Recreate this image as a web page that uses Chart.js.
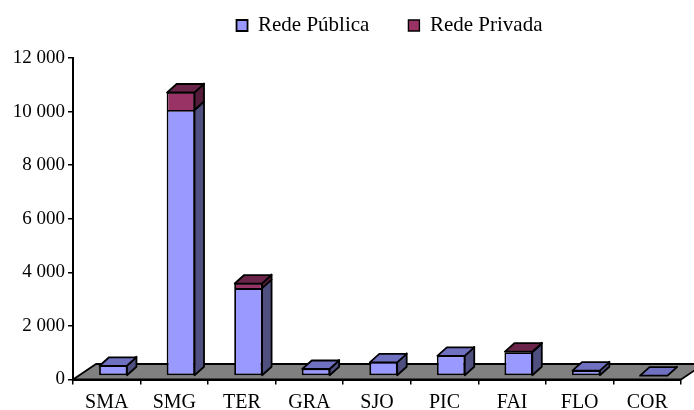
<!DOCTYPE html>
<html>
<head>
<meta charset="utf-8">
<style>html,body{margin:0;padding:0;background:#fff}canvas{display:block}</style>
<script src="https://cdn.jsdelivr.net/npm/chart.js@4"></script>
</head>
<body>
<canvas id="c" width="694" height="410"></canvas>
<script>
const categories = ['SMA','SMG','TER','GRA','SJO','PIC','FAI','FLO','COR'];
const redePublica = [400,9930,3280,280,530,770,890,220,30];
const redePrivada = [0,670,190,0,0,0,40,0,0];
const yTickLabels = ['0','2 000','4 000','6 000','8 000','10 000','12 000'];

const FRONT_SHIFT_X = 6.5, FRONT_SHIFT_Y = -3.5, DEPTH_X = 9.5, DEPTH_Y = 8.5;
const FLOOR_DX = 23, FLOOR_DY = 15.5;
const LINE = 1.8;
const shades = [
  {side:'#4f4f80', top:'#7070c0'},
  {side:'#551c39', top:'#6b2449'}
];

function poly(ctx, pts, fill) {
  ctx.beginPath();
  pts.forEach((p,i)=> i ? ctx.lineTo(p[0],p[1]) : ctx.moveTo(p[0],p[1]));
  ctx.closePath();
  ctx.fillStyle = fill;
  ctx.fill();
  ctx.lineWidth = LINE;
  ctx.lineJoin = 'round';
  ctx.strokeStyle = '#000';
  ctx.stroke();
}

const threeD = {
  id:'threeD',
  beforeDraw(chart){
    const {ctx, scales:{x,y}} = chart;
    const base = y.getPixelForValue(0), l = x.left, r = x.right;
    poly(ctx, [[l,base],[l+FLOOR_DX,base-FLOOR_DY],[r+FLOOR_DX,base-FLOOR_DY],[r,base]], '#808080');
  },
  beforeDatasetsDraw(chart){
    chart.ctx.save();
    chart.ctx.translate(FRONT_SHIFT_X, FRONT_SHIFT_Y);
  },
  afterDatasetsDraw(chart){
    const ctx = chart.ctx;
    categories.forEach((_,i)=>{
      let topIdx = -1, topEl = null;
      chart.data.datasets.forEach((ds,d)=>{
        const el = chart.getDatasetMeta(d).data[i];
        if(!ds.data[i]) return;
        const {x,y,base,width} = el.getProps(['x','y','base','width'], true);
        const R = x + width/2 - 0.5;
        poly(ctx, [[R,y],[R+DEPTH_X,y-DEPTH_Y],[R+DEPTH_X,base-DEPTH_Y],[R,base]], shades[d].side);
        topIdx = d; topEl = {x,y,width};
      });
      if(topEl){
        const L = topEl.x-topEl.width/2+0.5, R = topEl.x+topEl.width/2-0.5, Y = topEl.y+0.5;
        poly(ctx, [[L,Y],[L+DEPTH_X,Y-DEPTH_Y],[R+DEPTH_X,Y-DEPTH_Y],[R,Y]], shades[topIdx].top);
      }
    });
    ctx.restore();
  },
  afterLayout(chart){
    const lg = chart.legend;
    lg.left += 49; lg.right += 49;
    lg.top = -24;
  }
};

const axisFont = {family:'"Liberation Serif"', size:20};
const yFont = {family:'"Liberation Serif"', size:19};
const legendFont = {family:'"Liberation Serif"', size:21};

new Chart(document.getElementById('c'), {
  type:'bar',
  plugins:[threeD],
  data:{
    labels:categories,
    datasets:[
      {label:'Rede Pública', data:redePublica, backgroundColor:'#9999ff', borderColor:'#000', borderWidth:LINE, borderSkipped:false},
      {label:'Rede Privada', data:redePrivada, backgroundColor:'#993366', borderColor:'#000',
       borderWidth:{top:LINE,left:LINE,right:LINE,bottom:0}, borderSkipped:false}
    ]
  },
  options:{
    responsive:false,
    animation:false,
    layout:{padding:{top:-12,right:13,bottom:0,left:0}},
    categoryPercentage:1,
    barPercentage:0.42,
    plugins:{
      tooltip:{enabled:false},
      legend:{
        position:'top',
        labels:{font:legendFont, color:'#000', boxWidth:11, boxHeight:11, padding:39}
      }
    },
    scales:{
      x:{
        stacked:true,
        afterFit(s){s.height = 30.5;},
        border:{color:'#000', width:2},
        grid:{display:true, drawOnChartArea:false, drawTicks:true, tickLength:5, color:'#000', lineWidth:1.5},
        ticks:{font:axisFont, color:'#000', padding:6, maxRotation:0, autoSkip:false}
      },
      y:{
        stacked:true,
        min:0, max:12000,
        afterFit(s){s.width = 73;},
        border:{color:'#000', width:2},
        grid:{display:true, drawOnChartArea:false, drawTicks:true, tickLength:5, color:'#000', lineWidth:1.5},
        ticks:{font:yFont, color:'#000', stepSize:2000, padding:3,
          callback(v){ return yTickLabels[Math.round(v/2000)]; }}
      }
    }
  }
});
</script>
</body>
</html>
